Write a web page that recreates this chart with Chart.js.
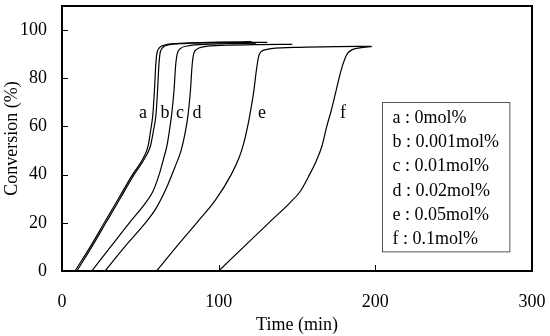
<!DOCTYPE html>
<html>
<head>
<meta charset="utf-8">
<script src="https://cdn.jsdelivr.net/npm/chart.js@4/dist/chart.umd.min.js"></script>
<style>
  html, body { margin: 0; padding: 0; background: #fff; }
</style>
</head>
<body>
<canvas id="chart" width="550" height="336"></canvas>
<script>
const curveNames = ['a', 'b', 'c', 'd', 'e', 'f'];
const legendText = ['a : 0mol%', 'b : 0.001mol%', 'c : 0.01mol%', 'd : 0.02mol%', 'e : 0.05mol%', 'f : 0.1mol%'];

const timeA = [8.3, 18, 27, 36, 45, 52, 55, 56.5, 58, 59, 59.8, 60.5, 62, 65, 75, 100, 121];
const convA = [0, 10, 20, 30, 40, 47, 52, 58, 65, 75, 85, 90, 92.5, 93.7, 94.5, 95, 95.2];
const timeB = [9.5, 19, 28, 37, 46, 53, 56.5, 58.3, 60, 61, 61.8, 62.5, 64, 67, 78, 105, 131];
const convB = [0, 10, 20, 30, 40, 47, 52, 58, 65, 75, 85, 90, 92.5, 93.7, 94.4, 94.8, 94.9];
const timeC = [19, 31, 43, 53, 58, 62, 65, 67, 68.5, 70, 71.5, 72.5, 73.5, 75.5, 80, 95, 124];
const convC = [0, 10, 20, 28, 33, 40, 47, 52, 58, 65, 75, 85, 90, 92.3, 93.4, 94.2, 94.6];
const timeD = [27.5, 40, 52, 60, 67, 72, 76, 78.5, 80.5, 82, 83, 84, 86, 90, 105, 125, 147];
const convD = [0, 10, 19, 26, 35, 43, 50, 57, 65, 75, 85, 90, 92, 93, 93.7, 94, 94.1];
const timeE = [60.4, 73, 86, 98, 108, 113, 116, 118.5, 120.5, 122.5, 124, 125.5, 127, 131, 148, 175, 197];
const convE = [0, 10, 20, 29.5, 40, 47, 53, 60, 67, 75, 83, 89, 91, 92, 92.8, 93.1, 93.3];
const timeF = [100, 116, 132, 145, 152, 158, 162.5, 166, 169, 172, 175, 178, 180.5, 182.5, 185, 190, 198];
const convF = [0, 10, 20, 28, 33, 40, 46, 52, 60, 67, 75, 83, 88, 90.5, 91.8, 92.6, 93.2];

const xTicks = [0, 100, 200, 300];
const yTicks = [0, 20, 40, 60, 80, 100];

// where the curve letters sit (data units)
const letterTime = [51.7, 65.7, 75.3, 86.2, 127.6, 179.3];
const letterConv = 65.4;

const serif = '"Liberation Serif", "Times New Roman", serif';

function pts(ts, cs) {
  return ts.map((t, i) => ({ x: t, y: cs[i] }));
}

function noPad(s) {
  s.paddingTop = 0;
  s.paddingBottom = 0;
  s.paddingLeft = 0;
  s.paddingRight = 0;
}

const series = [[timeA, convA], [timeB, convB], [timeC, convC], [timeD, convD], [timeE, convE], [timeF, convF]];

const decor = {
  id: 'decor',
  afterDraw(chart) {
    const { ctx, chartArea: a, scales: { x, y } } = chart;
    ctx.save();
    ctx.strokeStyle = '#000';
    ctx.lineWidth = 2;
    ctx.strokeRect(a.left, a.top, a.right - a.left, a.bottom - a.top);

    // inward tick marks
    ctx.lineWidth = 1;
    yTicks.forEach(v => {
      const py = Math.round(y.getPixelForValue(v)) + 0.5;
      ctx.beginPath();
      ctx.moveTo(a.left, py);
      ctx.lineTo(a.left + 6, py);
      ctx.stroke();
    });
    xTicks.slice(1, -1).forEach(v => {
      const px = Math.round(x.getPixelForValue(v)) + 0.5;
      ctx.beginPath();
      ctx.moveTo(px, a.bottom);
      ctx.lineTo(px, a.bottom - 6);
      ctx.stroke();
    });

    // curve letters
    ctx.fillStyle = '#000';
    ctx.font = '18px ' + serif;
    ctx.textAlign = 'center';
    ctx.textBaseline = 'middle';
    curveNames.forEach((n, i) => {
      ctx.fillText(n, x.getPixelForValue(letterTime[i]), y.getPixelForValue(letterConv));
    });

    // legend box
    const bx0 = x.getPixelForValue(204), bx1 = x.getPixelForValue(285.3);
    const by0 = y.getPixelForValue(70), by1 = y.getPixelForValue(8);
    ctx.fillStyle = '#fff';
    ctx.fillRect(bx0, by0, bx1 - bx0, by1 - by0);
    ctx.strokeStyle = '#555';
    ctx.lineWidth = 1;
    ctx.strokeRect(Math.round(bx0) + 0.5, Math.round(by0) + 0.5, bx1 - bx0, by1 - by0);
    ctx.fillStyle = '#000';
    ctx.textAlign = 'left';
    legendText.forEach((t, i) => {
      ctx.fillText(t, bx0 + 11, by0 + 16 + i * 24.2);
    });
    ctx.restore();
  }
};

new Chart(document.getElementById('chart'), {
  type: 'scatter',
  data: {
    datasets: series.map((s, i) => ({
      label: curveNames[i],
      data: pts(s[0], s[1]),
      showLine: true,
      borderColor: '#000',
      borderWidth: 1.2,
      pointRadius: 0,
      cubicInterpolationMode: 'monotone',
      fill: false
    }))
  },
  options: {
    responsive: false,
    animation: false,
    devicePixelRatio: 1,
    layout: { padding: { top: 6, right: 18, left: 0, bottom: 0 } },
    plugins: { legend: { display: false }, tooltip: { enabled: false } },
    scales: {
      x: {
        type: 'linear',
        min: 0,
        max: 300,
        afterBuildTicks: s => { s.ticks = xTicks.map(v => ({ value: v })); },
        afterFit: s => { s.height = 65; noPad(s); },
        grid: { display: false, drawTicks: false },
        border: { display: false },
        ticks: { padding: 20, color: '#000', maxRotation: 0, font: { family: serif, size: 18 } },
        title: { display: true, text: 'Time (min)', color: '#000', font: { family: serif, size: 18 }, padding: { top: 4, bottom: 0 } }
      },
      y: {
        min: 0,
        max: 110,
        afterBuildTicks: s => { s.ticks = yTicks.map(v => ({ value: v })); },
        afterFit: s => { s.width = 62; noPad(s); },
        grid: { display: false, drawTicks: false },
        border: { display: false },
        ticks: { padding: 15, color: '#000', font: { family: serif, size: 18 } },
        title: { display: true, text: 'Conversion (%)', color: '#000', font: { family: serif, size: 18 }, padding: { top: 1, bottom: 0 } }
      }
    }
  },
  plugins: [decor]
});
</script>
</body>
</html>
